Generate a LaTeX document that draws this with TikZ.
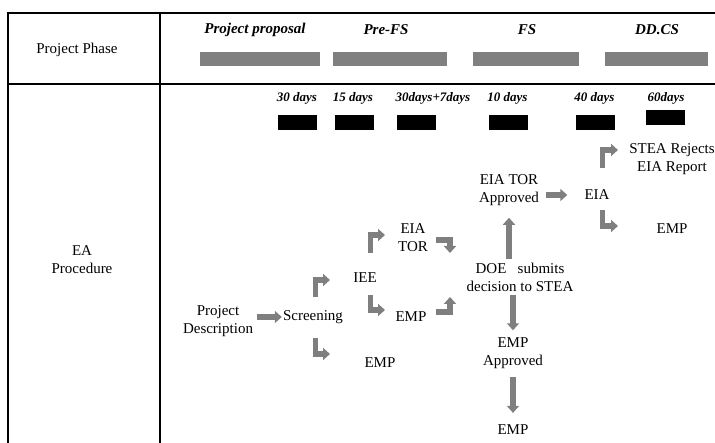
\documentclass[tikz,border=0pt]{standalone}
\usepackage{fontspec}
\setmainfont{Liberation Serif}
\usepackage{tikz}
\usetikzlibrary{arrows.meta}
\definecolor{barGray}{HTML}{808080}
\definecolor{arrowGray}{HTML}{7F7F7F}
\begin{document}
\begin{tikzpicture}[x=1pt,y=-1pt,
      every node/.style={font=\fontsize{15}{18}\selectfont,align=center,inner sep=0pt},
      phase/.style={font=\fontsize{15}{18}\selectfont\bfseries\itshape},
      days/.style={font=\fontsize{13}{15}\selectfont\bfseries\itshape},
      graybar/.style={fill=barGray,minimum height=14pt},
      blackbar/.style={fill=black,minimum width=39pt,minimum height=15pt},
      blockarrow/.style={draw=arrowGray,line width=5.5pt,line join=miter,
        -{Triangle[length=7pt,width=12pt]}}]
      \useasboundingbox (0,0) rectangle (715,443);
      % table
      \draw[line width=1.2pt] (715,13) -- (8,13) -- (8,443);
      \draw[line width=1.2pt] (8,84) -- (715,84);
      \draw[line width=1.2pt] (160,13) -- (160,443);
      \node (phase) at (77,50) {Project Phase};
      \node (procedure) at (82,260) {EA\\Procedure};
      % phases
      \node[phase] (proposal) at (255,30) {Project proposal};
      \node[phase] (prefs) at (386,30) {Pre-FS};
      \node[phase] (fs) at (527,30) {FS};
      \node[phase] (ddcs) at (657,30) {DD.CS};
      \node[graybar,minimum width=120pt] (barproposal) at (260,59) {};
      \node[graybar,minimum width=114pt] (barprefs) at (390,59) {};
      \node[graybar,minimum width=106pt] (barfs) at (526,59) {};
      \node[graybar,minimum width=103pt] (barddcs) at (656.5,59) {};
      % durations
      \node[days] (d1) at (297,98) {30 days};
      \node[days] (d2) at (353,98) {15 days};
      \node[days] (d3) at (433,98) {30days+7days};
      \node[days] (d4) at (507.5,98) {10 days};
      \node[days] (d5) at (594.5,98) {40 days};
      \node[days] (d6) at (666,98) {60days};
      \node[blackbar] (k1) at (297.5,122.5) {};
      \node[blackbar] (k2) at (354.5,122.5) {};
      \node[blackbar] (k3) at (416.5,122.5) {};
      \node[blackbar] (k4) at (508,122.5) {};
      \node[blackbar] (k5) at (595.5,122.5) {};
      \node[blackbar] (k6) at (665.5,117.5) {};
      % procedure
      \node (desc) at (218,321) {Project\\Description};
      \node (screen) at (313,317) {Screening};
      \node (iee) at (365,278) {IEE};
      \node (empscreen) at (380,363) {EMP};
      \node (tor) at (413,238) {EIA\\TOR};
      \node (empiee) at (411,317) {EMP};
      \node (doe) at (520,277) {DOE\ \ \ submits\\decision to STEA};
      \node (approved) at (509,190) {EIA TOR\\Approved};
      \node (eia) at (597,195) {EIA};
      \node (rejects) at (672,159) {STEA Rejects\\EIA Report};
      \node (empeia) at (672,229) {EMP};
      \node (empapproved) at (513,353) {EMP\\Approved};
      \node (empfinal) at (513,430) {EMP};
      % straight arrows
      \draw[blockarrow,shorten <=4pt,shorten >=1pt] (desc.east|-screen) -- (screen.west);
      \draw[blockarrow,shorten <=4pt,shorten >=12pt] (doe.north-|approved.south) -- (approved.south);
      \draw[blockarrow,shorten <=7pt,shorten >=17pt] (approved.east|-eia) -- (eia.west);
      \draw[blockarrow,shorten <=4pt,shorten >=7pt] (doe.south-|empapproved) -- (empapproved.north);
      \draw[blockarrow,shorten <=8pt,shorten >=12pt] (empapproved.south) -- (empfinal.north);
      % bent arrows
      \coordinate (s1) at (315.5,297);
      \coordinate (s2) at (315.5,338);
      \coordinate (i1) at (370.5,253);
      \coordinate (i2) at (370.5,295);
      \coordinate (t1) at (436,240);
      \coordinate (m1) at (436,312);
      \coordinate (e1) at (602.5,168);
      \coordinate (e2) at (602.5,210);
      \draw[blockarrow] (s1) |- ++(14.5,-17);
      \draw[blockarrow] (s2) |- ++(14.5,16);
      \draw[blockarrow] (i1) |- ++(14.5,-18);
      \draw[blockarrow] (i2) |- ++(14.5,15);
      \draw[blockarrow] (t1) -| ++(14,13);
      \draw[blockarrow] (m1) -| ++(14,-15);
      \draw[blockarrow] (e1) |- ++(15.5,-18);
      \draw[blockarrow] (e2) |- ++(15.5,16);
\end{tikzpicture}
\end{document}
